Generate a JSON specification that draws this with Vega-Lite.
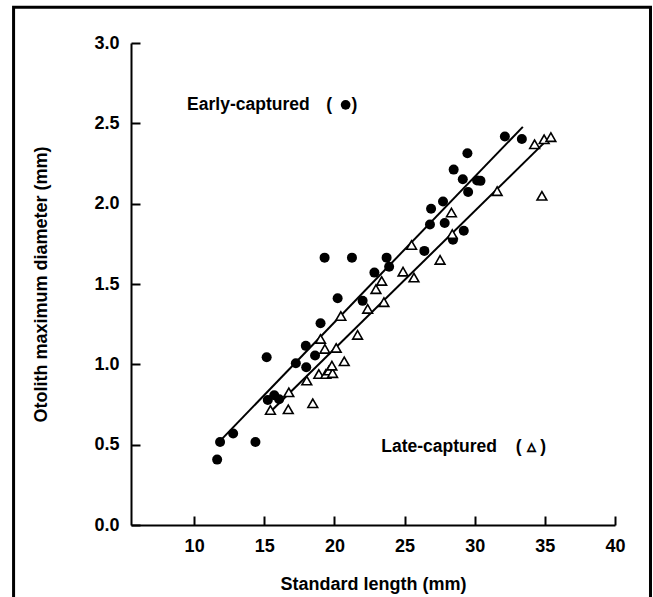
{
  "$schema": "https://vega.github.io/schema/vega-lite/v6.json",
  "width": 484,
  "height": 482,
  "autosize": {"type": "none"},
  "padding": {"left": 131, "top": 43, "right": 38, "bottom": 72},
  "background": "white",
  "config": {
    "view": {"stroke": null},
    "font": "Liberation Sans",
    "axis": {
      "grid": false,
      "domainColor": "black",
      "domainWidth": 2,
      "tickColor": "black",
      "tickWidth": 2,
      "tickSize": -9,
      "labelPadding": 21,
      "labelFont": "Liberation Sans",
      "labelFontSize": 18,
      "labelFontWeight": "bold",
      "labelColor": "black",
      "labelFlush": false,
      "titleFont": "Liberation Sans",
      "titleFontSize": 18,
      "titleFontWeight": "bold",
      "titleColor": "black"
    }
  },
  "datasets": {
    "points": [
      {"group": "Early", "length": 11.64, "diameter": 0.407},
      {"group": "Early", "length": 11.85, "diameter": 0.517},
      {"group": "Early", "length": 12.78, "diameter": 0.569},
      {"group": "Early", "length": 14.37, "diameter": 0.517},
      {"group": "Early", "length": 15.25, "diameter": 0.778},
      {"group": "Early", "length": 15.71, "diameter": 0.808},
      {"group": "Early", "length": 16.06, "diameter": 0.783},
      {"group": "Early", "length": 15.17, "diameter": 1.044},
      {"group": "Early", "length": 17.25, "diameter": 1.007},
      {"group": "Early", "length": 17.99, "diameter": 0.982},
      {"group": "Early", "length": 17.96, "diameter": 1.115},
      {"group": "Early", "length": 18.62, "diameter": 1.055},
      {"group": "Early", "length": 19.01, "diameter": 1.256},
      {"group": "Early", "length": 20.23, "diameter": 1.411},
      {"group": "Early", "length": 19.3, "diameter": 1.664},
      {"group": "Early", "length": 21.25, "diameter": 1.664},
      {"group": "Early", "length": 22.01, "diameter": 1.395},
      {"group": "Early", "length": 22.85, "diameter": 1.571},
      {"group": "Early", "length": 23.72, "diameter": 1.664},
      {"group": "Early", "length": 23.9, "diameter": 1.607},
      {"group": "Early", "length": 26.41, "diameter": 1.706},
      {"group": "Early", "length": 26.81, "diameter": 1.87},
      {"group": "Early", "length": 26.89, "diameter": 1.968},
      {"group": "Early", "length": 27.74, "diameter": 2.013},
      {"group": "Early", "length": 27.86, "diameter": 1.88},
      {"group": "Early", "length": 28.45, "diameter": 1.775},
      {"group": "Early", "length": 28.5, "diameter": 2.212},
      {"group": "Early", "length": 29.15, "diameter": 2.152},
      {"group": "Early", "length": 29.22, "diameter": 1.831},
      {"group": "Early", "length": 29.48, "diameter": 2.314},
      {"group": "Early", "length": 29.53, "diameter": 2.073},
      {"group": "Early", "length": 30.17, "diameter": 2.144},
      {"group": "Early", "length": 30.41, "diameter": 2.142},
      {"group": "Early", "length": 32.15, "diameter": 2.418},
      {"group": "Early", "length": 33.36, "diameter": 2.403},
      {"group": "Late", "length": 15.44, "diameter": 0.716},
      {"group": "Late", "length": 16.71, "diameter": 0.72},
      {"group": "Late", "length": 16.75, "diameter": 0.826},
      {"group": "Late", "length": 18.03, "diameter": 0.899},
      {"group": "Late", "length": 18.46, "diameter": 0.758},
      {"group": "Late", "length": 18.89, "diameter": 0.94},
      {"group": "Late", "length": 19.39, "diameter": 0.94},
      {"group": "Late", "length": 19.6, "diameter": 0.961},
      {"group": "Late", "length": 19.87, "diameter": 0.945},
      {"group": "Late", "length": 19.82, "diameter": 0.992},
      {"group": "Late", "length": 20.7, "diameter": 1.019},
      {"group": "Late", "length": 19.32, "diameter": 1.096},
      {"group": "Late", "length": 20.13, "diameter": 1.102},
      {"group": "Late", "length": 19.01, "diameter": 1.158},
      {"group": "Late", "length": 21.65, "diameter": 1.183},
      {"group": "Late", "length": 20.46, "diameter": 1.301},
      {"group": "Late", "length": 22.37, "diameter": 1.345},
      {"group": "Late", "length": 23.53, "diameter": 1.387},
      {"group": "Late", "length": 22.96, "diameter": 1.468},
      {"group": "Late", "length": 23.37, "diameter": 1.519},
      {"group": "Late", "length": 24.89, "diameter": 1.577},
      {"group": "Late", "length": 25.67, "diameter": 1.54},
      {"group": "Late", "length": 25.5, "diameter": 1.743},
      {"group": "Late", "length": 27.53, "diameter": 1.65},
      {"group": "Late", "length": 28.4, "diameter": 1.81},
      {"group": "Late", "length": 28.34, "diameter": 1.945},
      {"group": "Late", "length": 31.6, "diameter": 2.078},
      {"group": "Late", "length": 34.79, "diameter": 2.049},
      {"group": "Late", "length": 34.27, "diameter": 2.37},
      {"group": "Late", "length": 34.95, "diameter": 2.401},
      {"group": "Late", "length": 35.43, "diameter": 2.414}
    ],
    "lines": [
      {"group": "Early", "length": 11.92, "diameter": 0.53},
      {"group": "Early", "length": 33.43, "diameter": 2.478},
      {"group": "Late", "length": 15.44, "diameter": 0.705},
      {"group": "Late", "length": 35.2, "diameter": 2.4}
    ],
    "labels": [
      {"label": "Early-captured"},
      {"label": "(\u00a0\u00a0\u00a0\u00a0)"},
      {"label": "Late-captured"},
      {"label": "( ▵ )"}
    ]
  },
  "layer": [
    {
      "data": {"name": "lines"},
      "mark": {"type": "line", "color": "black", "strokeWidth": 2},
      "encoding": {
        "x": {
          "field": "length",
          "type": "quantitative",
          "scale": {"domain": [5.5, 40], "nice": false, "zero": false},
          "axis": {"values": [10, 15, 20, 25, 30, 35, 40], "title": "Standard length (mm)", "titlePadding": 20}
        },
        "y": {
          "field": "diameter",
          "type": "quantitative",
          "scale": {"domain": [0, 3], "nice": false},
          "axis": {"values": [0, 0.5, 1, 1.5, 2, 2.5, 3], "format": ".1f", "title": "Otolith maximum diameter (mm)", "titlePadding": 43}
        },
        "detail": {"field": "group"}
      }
    },
    {
      "data": {"name": "points"},
      "transform": [{"filter": "datum.group === 'Early'"}],
      "mark": {"type": "point", "shape": "circle", "filled": true, "color": "black", "opacity": 1, "size": 100},
      "encoding": {
        "x": {"field": "length", "type": "quantitative"},
        "y": {"field": "diameter", "type": "quantitative"}
      }
    },
    {
      "data": {"name": "points"},
      "transform": [{"filter": "datum.group === 'Late'"}],
      "mark": {"type": "point", "shape": "triangle-up", "filled": true, "fill": "white", "stroke": "black", "strokeWidth": 1.6, "opacity": 1, "size": 95},
      "encoding": {
        "x": {"field": "length", "type": "quantitative"},
        "y": {"field": "diameter", "type": "quantitative"}
      }
    },
    {
      "data": {"name": "labels"},
      "transform": [{"filter": "datum.label === 'Early-captured'"}],
      "mark": {"type": "text", "align": "left", "baseline": "middle", "fontSize": 17.5, "fontWeight": "bold", "font": "Liberation Sans", "color": "black"},
      "encoding": {"x": {"datum": 9.5}, "y": {"datum": 2.615}, "text": {"field": "label"}}
    },
    {
      "data": {"name": "labels"},
      "transform": [{"filter": "indexof(datum.label, '(') === 0 && indexof(datum.label, '▵') < 0"}],
      "mark": {"type": "text", "align": "left", "baseline": "middle", "fontSize": 17.5, "fontWeight": "bold", "font": "Liberation Sans", "color": "black"},
      "encoding": {"x": {"datum": 19.42}, "y": {"datum": 2.615}, "text": {"field": "label"}}
    },
    {
      "data": {"values": [{"symbol": "early"}]},
      "mark": {"type": "point", "shape": "circle", "filled": true, "color": "black", "opacity": 1, "size": 95},
      "encoding": {"x": {"datum": 20.8}, "y": {"datum": 2.615}}
    },
    {
      "data": {"name": "labels"},
      "transform": [{"filter": "datum.label === 'Late-captured'"}],
      "mark": {"type": "text", "align": "left", "baseline": "middle", "fontSize": 17.5, "fontWeight": "bold", "font": "Liberation Sans", "color": "black"},
      "encoding": {"x": {"datum": 23.34}, "y": {"datum": 0.4875}, "text": {"field": "label"}}
    },
    {
      "data": {"name": "labels"},
      "transform": [{"filter": "datum.label === '( ▵ )'"}],
      "mark": {"type": "text", "align": "left", "baseline": "middle", "fontSize": 17.5, "fontWeight": "bold", "font": "Liberation Sans", "color": "black"},
      "encoding": {"x": {"datum": 32.93}, "y": {"datum": 0.4875}, "text": {"field": "label"}}
    },
    {
      "data": {"values": [{"frame": "border"}]},
      "mark": {"type": "rect", "filled": false, "stroke": "black", "strokeWidth": 3, "clip": false},
      "encoding": {
        "x": {"datum": -2.87},
        "x2": {"datum": 42.53},
        "y": {"datum": 3.222},
        "y2": {"datum": -0.5}
      }
    }
  ]
}
